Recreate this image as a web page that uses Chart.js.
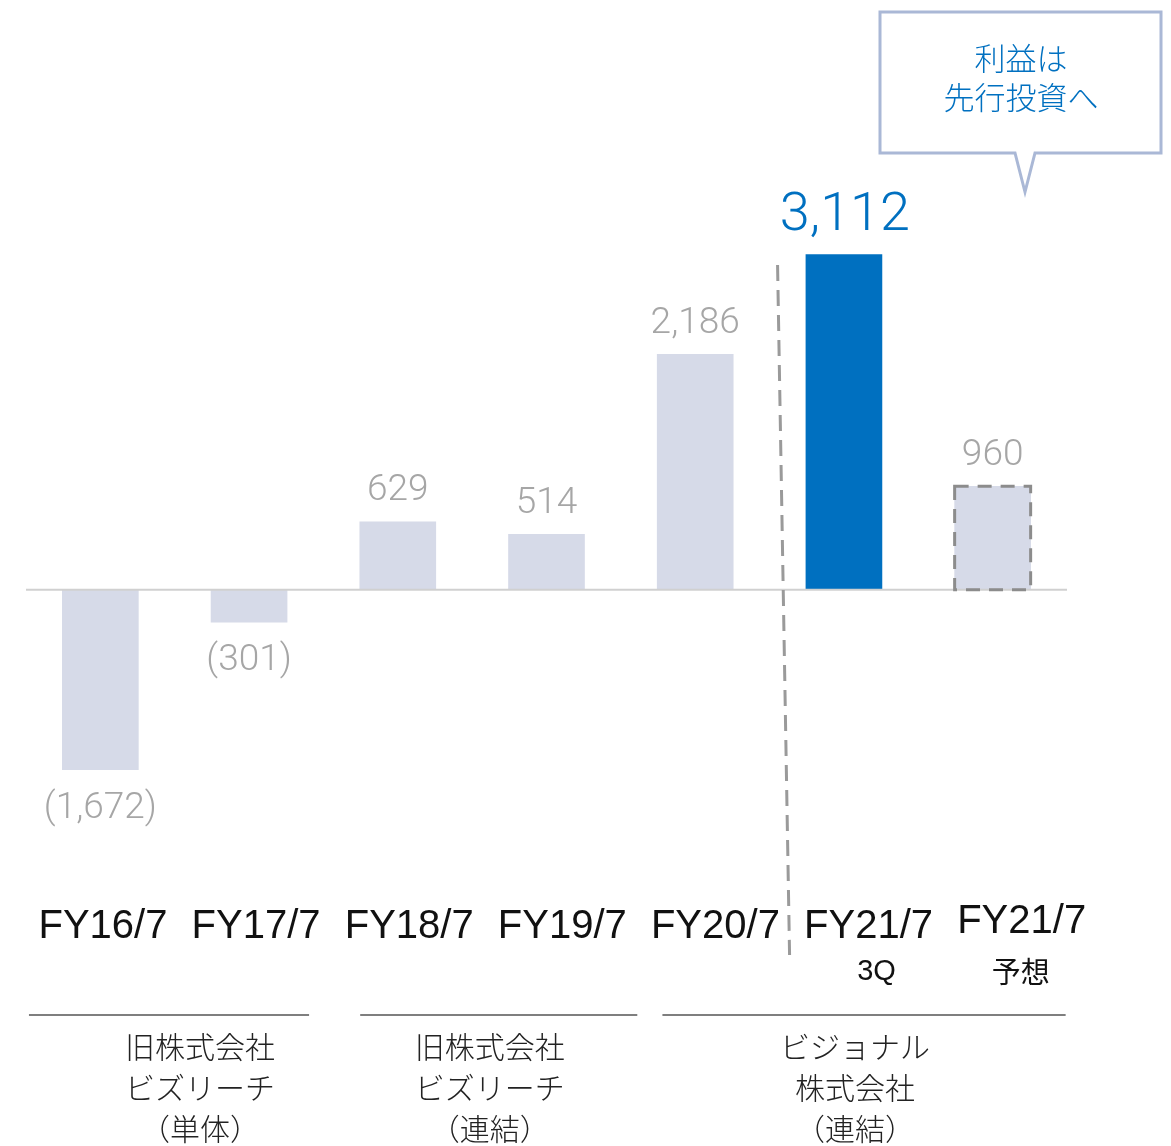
<!DOCTYPE html>
<html>
<head>
<meta charset="utf-8">
<script src="https://cdn.jsdelivr.net/npm/chart.js@4"></script>
<style>
  html, body { margin: 0; padding: 0; background: #fff; }
  #wrap { width: 1171px; height: 1146px; position: relative; }
</style>
</head>
<body>
<div id="wrap"><canvas id="profitChart" width="1171" height="1146"></canvas></div>
<script>
const categories = ["FY16/7", "FY17/7", "FY18/7", "FY19/7", "FY20/7", "FY21/7", "FY21/7"];
const subLabels = ["", "", "", "", "", "3Q", "予想"];
const values = [-1672, -301, 629, 514, 2186, 3112, 960];
const valueLabels = ["(1,672)", "(301)", "629", "514", "2,186", "3,112", "960"];
const groups = [
  { from: 0, to: 1, lines: ["旧株式会社", "ビズリーチ", "（単体）"] },
  { from: 2, to: 3, lines: ["旧株式会社", "ビズリーチ", "（連結）"] },
  { from: 4, to: 6, lines: ["ビジョナル", "株式会社", "（連結）"] }
];
const calloutLines = ["利益は", "先行投資へ"];

const lightColor = "#d6dae8";
const blueColor = "#0070c0";
const jpFont = '"Noto Sans CJK JP", "Noto Sans", sans-serif';
const numFont = 'Roboto, "Liberation Sans", sans-serif';
const catFont = '"Liberation Sans", Arial, sans-serif';

const extras = {
  id: "extras",
  afterDatasetsDraw(chart) {
    const ctx = chart.ctx;
    const meta = chart.getDatasetMeta(0);
    const x = chart.scales.x;
    const y = chart.scales.y;
    const zero = y.getPixelForValue(0);
    // category text sits on a slightly wider grid than the bars
    const labelX = i => x.getPixelForValue(i) + 2.6 + i * 4.4;
    ctx.save();

    // zero line
    ctx.strokeStyle = "#d0d0d0";
    ctx.lineWidth = 2;
    ctx.beginPath();
    ctx.moveTo(chart.chartArea.left, zero);
    ctx.lineTo(chart.chartArea.right, zero);
    ctx.stroke();

    // dashed border around forecast bar
    const last = meta.data[6];
    const half = last.width / 2;
    ctx.setLineDash([14, 9]);
    ctx.strokeStyle = "#8c8c8c";
    ctx.lineWidth = 3;
    ctx.strokeRect(last.x - half, last.y, half * 2, zero - last.y);

    // divider (dashed, slightly slanted)
    const divX = (x.getPixelForValue(4) + x.getPixelForValue(5)) / 2;
    ctx.setLineDash([16, 9]);
    ctx.strokeStyle = "#9a9a9a";
    ctx.beginPath();
    ctx.moveTo(divX + 8, 265);
    ctx.lineTo(divX + 20, 955);
    ctx.stroke();
    ctx.setLineDash([]);

    // value labels
    ctx.textAlign = "center";
    ctx.textBaseline = "middle";
    meta.data.forEach((bar, i) => {
      const v = values[i];
      if (i === 5) {
        ctx.fillStyle = blueColor;
        ctx.font = "300 54px " + numFont;
        ctx.fillText(valueLabels[i], bar.x + 1, bar.y - 38);
      } else {
        ctx.fillStyle = "#a6a6a6";
        ctx.font = "300 37px " + numFont;
        const ly = v >= 0 ? bar.y - 31 : bar.y + 39;
        ctx.fillText(valueLabels[i], bar.x, ly);
      }
    });

    // category labels
    ctx.fillStyle = "#111";
    categories.forEach((c, i) => {
      const cx = labelX(i);
      ctx.font = "40px " + catFont;
      ctx.fillText(c, cx, i === 6 ? 922 : 927);
      if (subLabels[i]) {
        ctx.font = "29px " + (i === 5 ? catFont : jpFont);
        ctx.fillText(subLabels[i], cx + (i === 5 ? 8 : -1), 972);
      }
    });

    // group brackets
    const edges = [[-74, 53], [-49, 75], [-53, 44]];
    const textShift = [31, -9, -9];
    groups.forEach((g, k) => {
      const x0 = labelX(g.from) + edges[k][0];
      const x1 = labelX(g.to) + edges[k][1];
      ctx.strokeStyle = "#555";
      ctx.lineWidth = 1.5;
      ctx.beginPath();
      ctx.moveTo(x0, 1015);
      ctx.lineTo(x1, 1015);
      ctx.stroke();
      ctx.fillStyle = "#222";
      ctx.font = "300 30px " + jpFont;
      const mid = (x0 + x1) / 2 + textShift[k];
      g.lines.forEach((t, n) => ctx.fillText(t, mid, 1047 + n * 41));
    });

    // callout
    ctx.strokeStyle = "#aab8d6";
    ctx.fillStyle = "#fff";
    ctx.lineWidth = 3;
    ctx.beginPath();
    ctx.moveTo(880, 12);
    ctx.lineTo(1161, 12);
    ctx.lineTo(1161, 153);
    ctx.lineTo(1035, 153);
    ctx.lineTo(1025, 192);
    ctx.lineTo(1015, 153);
    ctx.lineTo(880, 153);
    ctx.closePath();
    ctx.fill();
    ctx.stroke();
    ctx.fillStyle = blueColor;
    ctx.font = "300 31px " + jpFont;
    calloutLines.forEach((t, n) => ctx.fillText(t, 1021, 58 + n * 39));

    ctx.restore();
  }
};

new Chart(document.getElementById("profitChart"), {
  type: "bar",
  data: {
    labels: categories,
    datasets: [{
      data: values,
      backgroundColor: values.map((v, i) => i === 5 ? blueColor : lightColor),
      barThickness: 76,
      borderWidth: 0
    }]
  },
  options: {
    responsive: false,
    animation: false,
    layout: { padding: { top: 159, bottom: 341, left: 26, right: 104 } },
    scales: {
      x: { display: false },
      y: { display: false, min: -2000, max: 4000 }
    },
    plugins: {
      legend: { display: false },
      tooltip: { enabled: false }
    }
  },
  plugins: [extras]
});
</script>
</body>
</html>
